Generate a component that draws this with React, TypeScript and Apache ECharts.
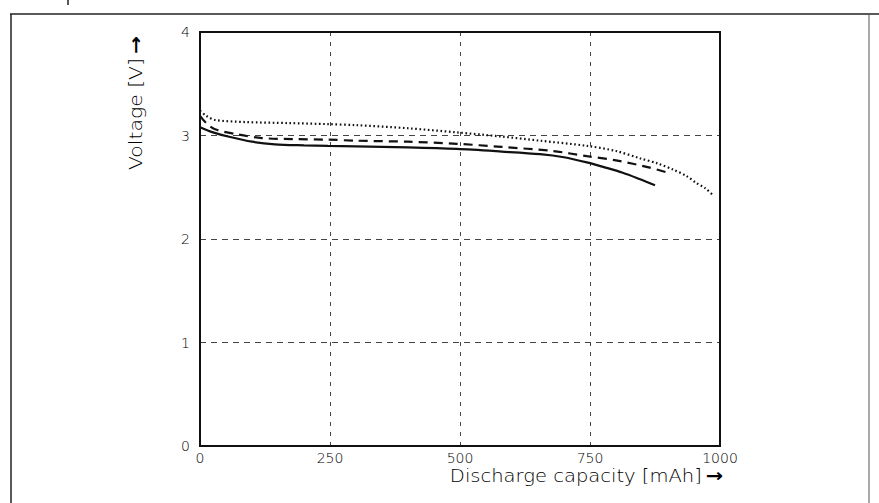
import React, { useEffect, useRef } from "react";
import * as echarts from "echarts";

// Discharge curves: [capacity mAh, voltage V]
const solidCurve: [number, number][] = [
  [0, 3.08], [25, 3.03], [54, 2.99], [100, 2.94], [144, 2.915], [200, 2.905],
  [246, 2.9], [300, 2.895], [400, 2.885], [494, 2.87], [580, 2.845], [654, 2.82],
  [700, 2.79], [744, 2.74], [780, 2.69], [813, 2.64], [845, 2.58], [875, 2.52],
];
const dashedCurve: [number, number][] = [
  [0, 3.19], [12, 3.12], [29, 3.06], [73, 3.01], [119, 2.975], [180, 2.965],
  [246, 2.96], [300, 2.95], [400, 2.94], [494, 2.92], [580, 2.89], [679, 2.85],
  [744, 2.8], [800, 2.76], [865, 2.69], [900, 2.64],
];
const dottedCurve: [number, number][] = [
  [0, 3.24], [12, 3.19], [29, 3.15], [87, 3.13], [170, 3.12], [246, 3.11],
  [300, 3.1], [400, 3.07], [494, 3.03], [580, 2.99], [654, 2.95], [744, 2.9],
  [800, 2.85], [846, 2.78], [880, 2.73], [910, 2.67], [935, 2.61], [955, 2.54],
  [972, 2.49], [985, 2.43],
];

const xTicks = [0, 250, 500, 750, 1000];
const yTicks = [0, 1, 2, 3, 4];

const FONT = "'DejaVu Sans', sans-serif";
const INK = "#111111";

// axis title style: thin words, heavier arrow
const titleRich = {
  t: { fontFamily: FONT, fontWeight: 200, fontSize: 17, fill: "#000" },
  a: { fontFamily: FONT, fontWeight: "bold", fontSize: 18, fill: "#000" },
};

export default function App() {
  const ref = useRef<HTMLDivElement>(null);

  useEffect(() => {
    if (!ref.current) return;
    const chart = echarts.init(ref.current, undefined, { renderer: "svg" });
    const lineSeries = (data: [number, number][], type: any, width: number) => ({
      type: "line",
      data,
      smooth: 0.3,
      symbol: "none",
      lineStyle: { color: INK, width, type, cap: "butt" },
      z: 5,
    });
    chart.setOption({
      animation: false,
      backgroundColor: "#ffffff",
      grid: {
        left: 200,
        top: 32,
        width: 520,
        height: 414,
        show: true,
        borderColor: INK,
        borderWidth: 2,
        backgroundColor: "transparent",
        z: 10,
      },
      xAxis: {
        type: "value",
        min: xTicks[0],
        max: xTicks[xTicks.length - 1],
        interval: 250,
        axisLine: { show: false },
        axisTick: { show: false },
        axisLabel: {
          color: "#000",
          fontFamily: FONT,
          fontWeight: 200,
          fontSize: 14,
          margin: 5,
          formatter: (v: number) => String(v),
        },
        splitLine: {
          show: true,
          lineStyle: { color: "#444", width: 1, type: [4, 6] },
        },
      },
      yAxis: {
        type: "value",
        min: yTicks[0],
        max: yTicks[yTicks.length - 1],
        interval: 1,
        axisLine: { show: false },
        axisTick: { show: false },
        axisLabel: {
          color: "#000",
          fontFamily: FONT,
          fontWeight: 200,
          fontSize: 14,
          margin: 10,
          verticalAlign: "middle",
        },
        splitLine: {
          show: true,
          lineStyle: { color: "#444", width: 1, type: [6, 5] },
        },
      },
      graphic: [
        // outer frame
        { type: "line", shape: { x1: 10, y1: 14, x2: 879, y2: 14 }, style: { stroke: "#222", lineWidth: 1.5 } },
        { type: "line", shape: { x1: 11, y1: 14, x2: 11, y2: 503 }, style: { stroke: "#222", lineWidth: 1.5 } },
        { type: "line", shape: { x1: 869, y1: 14, x2: 869, y2: 503 }, style: { stroke: "#555", lineWidth: 1 } },
        { type: "line", shape: { x1: 68, y1: 0, x2: 68, y2: 5 }, style: { stroke: "#222", lineWidth: 1.5 } },
        {
          type: "text",
          x: 136,
          y: 103,
          rotation: Math.PI / 2,
          scaleX: 1.2,
          style: {
            text: "{t|Voltage [V]} {a|\u2192}",
            rich: titleRich,
            align: "center",
            verticalAlign: "middle",
          },
        },
        {
          type: "text",
          x: 723,
          y: 476,
          scaleX: 1.15,
          style: {
            text: "{t|Discharge capacity [mAh]} {a|\u2192}",
            rich: titleRich,
            align: "right",
            verticalAlign: "middle",
          },
        },
      ],
      series: [
        lineSeries(solidCurve, "solid", 2.2),
        lineSeries(dashedCurve, [9, 6], 2.2),
        lineSeries(dottedCurve, [1.6, 2.6], 2.2),
      ],
    });
    return () => chart.dispose();
  }, []);

  return (
    <div
      ref={ref}
      style={{ position: "fixed", left: 0, top: 0, width: 879, height: 503 }}
    />
  );
}
